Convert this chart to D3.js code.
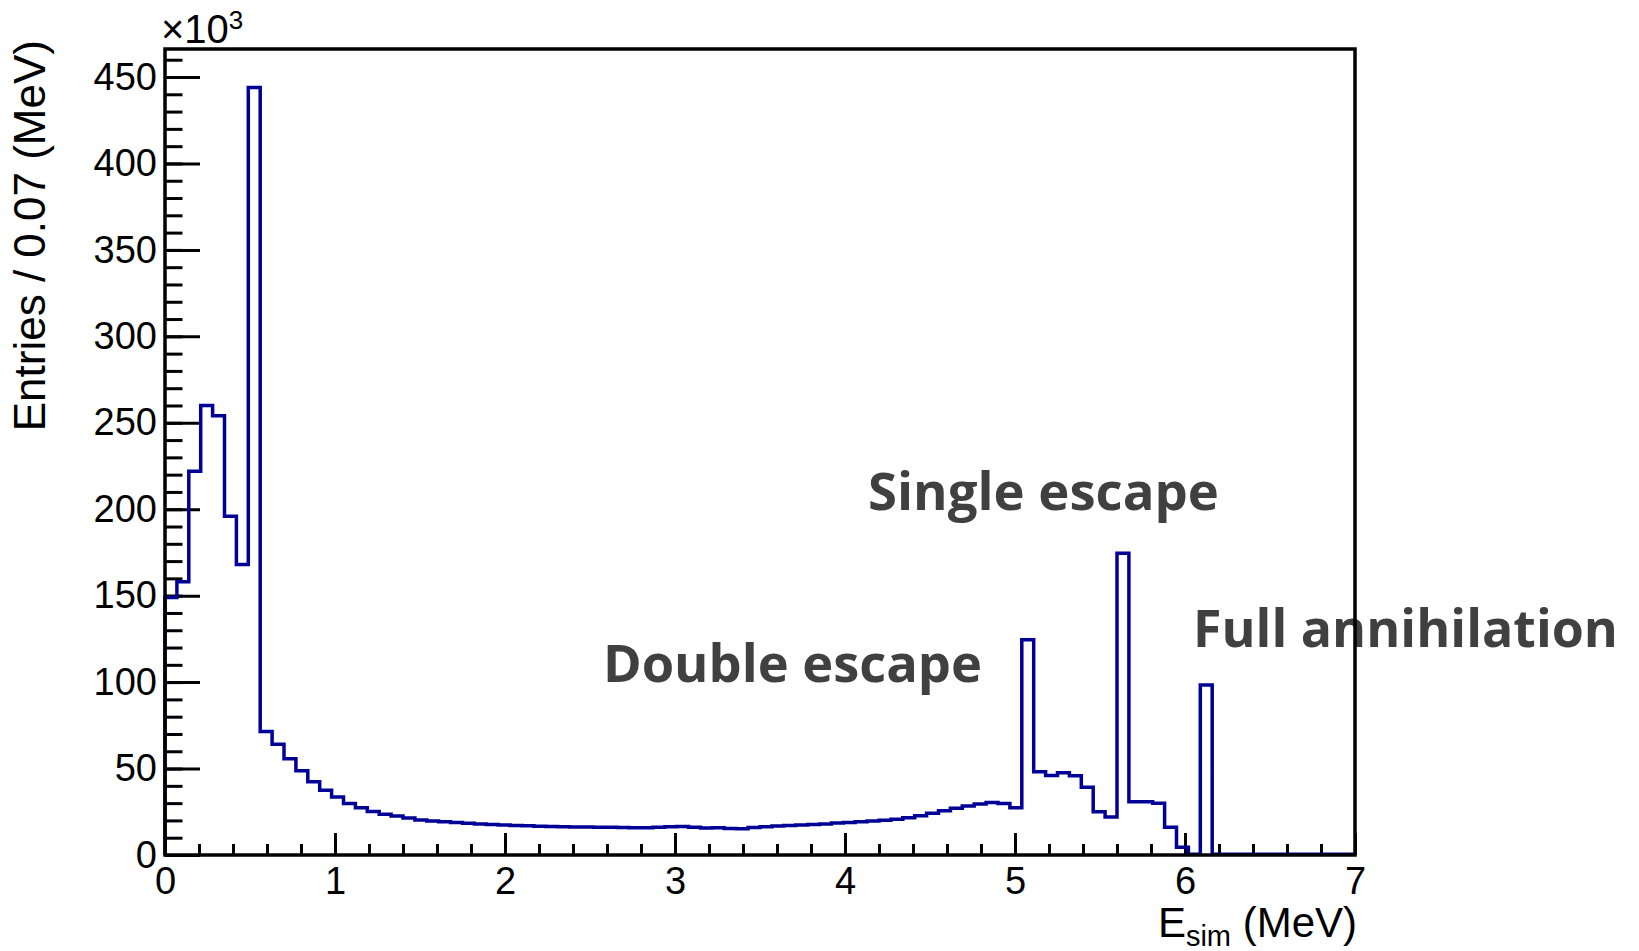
<!DOCTYPE html>
<html>
<head>
<meta charset="utf-8">
<script src="https://cdn.jsdelivr.net/npm/d3@7"></script>
<style>
  body { margin: 0; background: #fff; }
  .chart text { font-family: "Liberation Sans", Arial, sans-serif; fill: #000; }
  .chart .note { font-family: "Open Sans", sans-serif; font-weight: 700; fill: #404040; }
  .tick line { stroke: #000; stroke-width: 3; }
</style>
</head>
<body>
<script>
"use strict";

// histogram: 100 bins of 0.07 MeV, entries in units of 10^3
var binWidth = 0.07;
var xRange = [0, 7];
var entries = [
  149, 158, 222, 260, 254, 196, 168, 444, 71.5, 64,
  55.7, 48.8, 42.4, 37.4, 33.5, 29.8, 27.3, 25.2, 23.5, 22.5,
  21.4, 20.3, 19.6, 19.2, 18.8, 18.4, 18.0, 17.7, 17.4, 17.1,
  16.9, 16.7, 16.5, 16.3, 16.2, 16.2, 16.1, 16.0, 15.9, 15.8,
  15.8, 16.0, 16.4, 16.5, 16.1, 15.6, 15.7, 15.3, 15.2, 15.9,
  16.4, 16.8, 17.0, 17.3, 17.6, 18.0, 18.5, 18.8, 19.2, 19.6,
  20.1, 20.7, 21.5, 22.7, 24.1, 25.6, 27.0, 28.3, 29.5, 30.3,
  29.8, 27.4, 124.5, 48.2, 46.0, 47.6, 45.8, 39.2, 25.0, 22.0,
  174.5, 30.8, 30.8, 30.0, 16.0, 4.5, 0.5, 98.3, 0.4, 0.4,
  0.4, 0.4, 0.4, 0.4, 0.4, 0.4, 0.4, 0.4, 0.4, 0.4
];

var xMajorTicks = [0, 1, 2, 3, 4, 5, 6, 7];
var yMajorTicks = [0, 50, 100, 150, 200, 250, 300, 350, 400, 450];
var yTitle = "Entries / 0.07 (MeV)";
var xTitle = ["E", "sim", " (MeV)"];

var noteLabels = ["Single escape", "Double escape", "Full annihilation"];
var noteEnergy = [4.135, 2.576, 6.047];   // MeV, left edge of each label
var noteLevel = [199.5, 100, 120.3];      // 10^3 entries, baseline of each label

(function () {
  var width = 1639, height = 951;
  var left = 165, right = 1355, top = 49, bottom = 855;
  var yMax = 1.05 * d3.max(entries);

  var svg = d3.select("body").append("svg")
    .attr("class", "chart")
    .attr("width", width)
    .attr("height", height);

  var x = d3.scaleLinear().domain(xRange).range([left, right]);
  var y = d3.scaleLinear().domain([0, yMax]).range([bottom, top]);

  // minor ticks first, majors on top
  var yMinor = d3.range(0, yMax, 10);
  var xMinor = d3.range(0, 7.0001, 0.2);

  svg.append("g")
    .attr("transform", "translate(" + left + ",0)")
    .call(d3.axisLeft(y).tickValues(yMinor).tickSizeInner(-17.5).tickSizeOuter(0).tickFormat(""))
    .call(function (g) { g.select(".domain").remove(); });

  var yAxis = svg.append("g")
    .attr("transform", "translate(" + left + ",0)")
    .call(d3.axisLeft(y).tickValues(yMajorTicks).tickSizeInner(-35).tickSizeOuter(0).tickPadding(8));
  yAxis.select(".domain").remove();
  yAxis.selectAll("text")
    .style("font-family", "'Liberation Sans', Arial, sans-serif")
    .style("font-size", "38px");

  svg.append("g")
    .attr("transform", "translate(0," + bottom + ")")
    .call(d3.axisBottom(x).tickValues(xMinor).tickSizeInner(-11).tickSizeOuter(0).tickFormat(""))
    .call(function (g) { g.select(".domain").remove(); });

  var xAxis = svg.append("g")
    .attr("transform", "translate(0," + bottom + ")")
    .call(d3.axisBottom(x).tickValues(xMajorTicks).tickSizeInner(-22).tickSizeOuter(0).tickPadding(12).tickFormat(d3.format("d")));
  xAxis.select(".domain").remove();
  xAxis.selectAll("text")
    .style("font-family", "'Liberation Sans', Arial, sans-serif")
    .style("font-size", "38px");

  // histogram outline
  var pts = [[0, 0]];
  entries.forEach(function (v, i) {
    pts.push([i * binWidth, v]);
    pts.push([(i + 1) * binWidth, v]);
  });
  pts.push([xRange[1], 0]);

  var line = d3.line()
    .x(function (d) { return x(d[0]); })
    .y(function (d) { return y(d[1]); });

  svg.append("path")
    .attr("d", line(pts))
    .attr("fill", "none")
    .attr("stroke", "#000096")
    .attr("stroke-width", 3.5)
    .attr("stroke-linejoin", "miter");

  // annotations
  var noteLen = [351, 379, 425];
  svg.selectAll(".note")
    .data(noteLabels)
    .enter().append("text")
    .attr("class", "note")
    .attr("x", function (d, i) { return x(noteEnergy[i]); })
    .attr("y", function (d, i) { return y(noteLevel[i]); })
    .attr("font-size", 52)
    .attr("textLength", function (d, i) { return noteLen[i]; })
    .attr("lengthAdjust", "spacingAndGlyphs")
    .text(function (d) { return d; });

  // frame
  svg.append("rect")
    .attr("x", left)
    .attr("y", top)
    .attr("width", right - left)
    .attr("height", bottom - top)
    .attr("fill", "none")
    .attr("stroke", "#000")
    .attr("stroke-width", 3.5);

  // x10^3 multiplier
  var mult = svg.append("text")
    .attr("x", 161)
    .attr("y", 43)
    .attr("font-size", 40);
  mult.append("tspan").text("\u00d710");
  mult.append("tspan").attr("dy", -14).attr("font-size", 26).text("3");

  // axis titles
  var xt = svg.append("text")
    .attr("x", 1357)
    .attr("y", 937)
    .attr("text-anchor", "end")
    .attr("font-size", 42);
  xt.append("tspan").text(xTitle[0]);
  xt.append("tspan").attr("dy", 9).attr("font-size", 29).text(xTitle[1]);
  xt.append("tspan").attr("dy", -9).text(xTitle[2]);

  svg.append("text")
    .attr("transform", "translate(45,40) rotate(-90)")
    .attr("text-anchor", "end")
    .attr("font-size", 44)
    .text(yTitle);
})();
</script>
</body>
</html>
